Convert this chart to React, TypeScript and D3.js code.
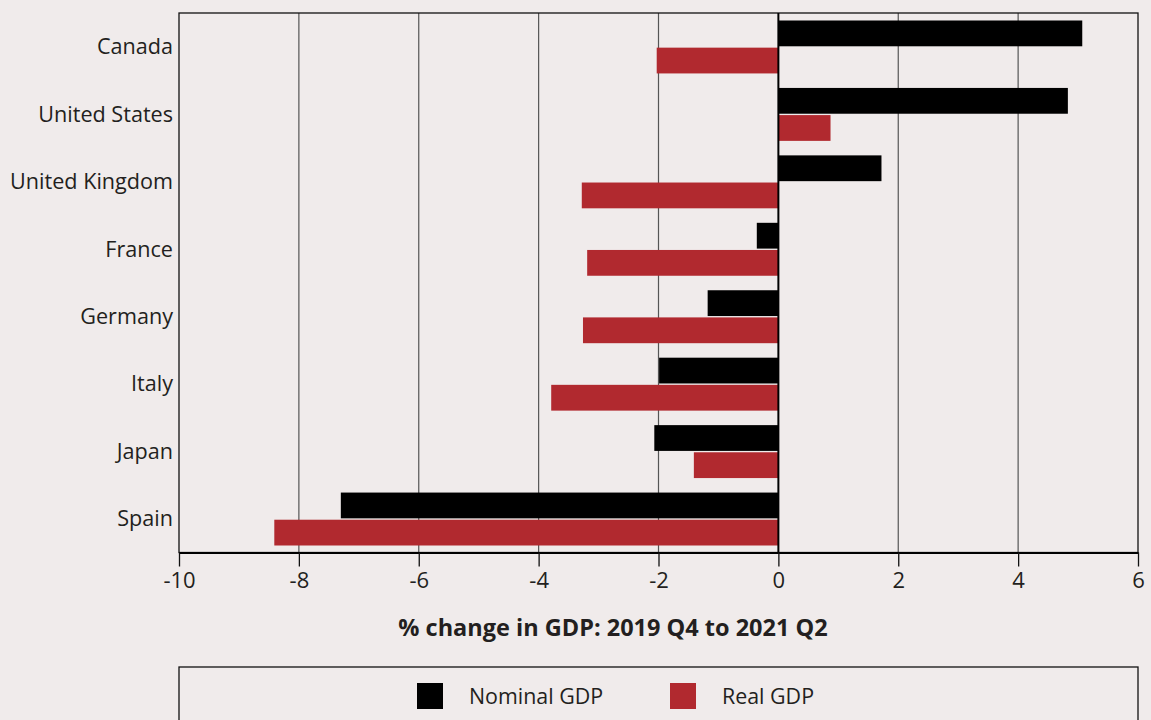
import React, { useEffect, useRef } from "react";
import * as d3 from "d3";

const countries = [
  "Canada",
  "United States",
  "United Kingdom",
  "France",
  "Germany",
  "Italy",
  "Japan",
  "Spain",
];
const nominalGDP = [5.07, 4.83, 1.72, -0.36, -1.18, -1.99, -2.07, -7.3];
const realGDP = [-2.03, 0.87, -3.28, -3.19, -3.26, -3.79, -1.41, -8.41];
const seriesKeys = ["Nominal GDP", "Real GDP"];
const xTicks = [-10, -8, -6, -4, -2, 0, 2, 4, 6];

const width = 1151,
  height = 720;
const margin = { top: 13, right: 13, bottom: 167.5, left: 179 };
const bg = "#f0ebeb";
const textColor = "#231f20";
const font = "'Open Sans', 'Noto Sans', sans-serif";
const color = d3.scaleOrdinal<string, string>(seriesKeys, ["#000000", "#b1292f"]);

export default function App(): JSX.Element {
  const ref = useRef<SVGSVGElement>(null);

  useEffect(() => {
    document.body.style.margin = "0";
    document.body.style.background = bg;
    if (!ref.current) return;
    const svg = d3.select(ref.current);
    svg.selectAll("*").remove();

    const x = d3
      .scaleLinear()
      .domain([-10, 6])
      .range([margin.left, width - margin.right]);

    const y0 = d3
      .scaleBand()
      .domain(countries)
      .range([margin.top, height - margin.bottom]);

    const y1 = d3
      .scaleBand()
      .domain(seriesKeys)
      .range([7.5, y0.bandwidth() - 7])
      .paddingInner(0.05);

    const rows = countries.map((c, i) => ({
      country: c,
      values: [
        { key: seriesKeys[0], value: nominalGDP[i] },
        { key: seriesKeys[1], value: realGDP[i] },
      ],
    }));

    svg.append("rect").attr("width", width).attr("height", height).attr("fill", bg);

    // grid lines
    svg
      .append("g")
      .selectAll("line")
      .data(xTicks.filter((t) => t !== 0 && t !== -10 && t !== 6))
      .join("line")
      .attr("x1", (d) => x(d))
      .attr("x2", (d) => x(d))
      .attr("y1", margin.top)
      .attr("y2", height - margin.bottom)
      .attr("stroke", "#555")
      .attr("stroke-width", 1.2);

    // bars
    svg
      .append("g")
      .selectAll("g")
      .data(rows)
      .join("g")
      .attr("transform", (d) => `translate(0,${y0(d.country)})`)
      .selectAll("rect")
      .data((d) => d.values)
      .join("rect")
      .attr("x", (d) => x(Math.min(0, d.value)))
      .attr("y", (d) => y1(d.key) as number)
      .attr("width", (d) => Math.abs(x(d.value) - x(0)))
      .attr("height", y1.bandwidth())
      .attr("fill", (d) => color(d.key));

    // frame
    svg
      .append("rect")
      .attr("x", margin.left)
      .attr("y", margin.top)
      .attr("width", width - margin.left - margin.right)
      .attr("height", height - margin.top - margin.bottom)
      .attr("fill", "none")
      .attr("stroke", "#111")
      .attr("stroke-width", 1.3);

    // zero line
    svg
      .append("line")
      .attr("x1", x(0))
      .attr("x2", x(0))
      .attr("y1", margin.top)
      .attr("y2", height - margin.bottom)
      .attr("stroke", "#000")
      .attr("stroke-width", 2);

    // x axis
    const xAxis = svg
      .append("g")
      .attr("transform", `translate(0,${height - margin.bottom})`)
      .call(
        d3
          .axisBottom(x)
          .tickValues(xTicks)
          .tickSize(14)
          .tickPadding(6)
          .tickSizeOuter(0)
          .tickFormat((d) => d3.format("d")(d as number).replace("−", "-"))
      );
    xAxis.select(".domain").attr("stroke", "#000").attr("stroke-width", 2);
    xAxis.selectAll(".tick line").attr("stroke", "#111").attr("stroke-width", 1.3);
    xAxis
      .selectAll(".tick text")
      .attr("font-family", font)
      .attr("font-size", 22)
      .attr("fill", textColor);

    // y labels
    svg
      .append("g")
      .selectAll("text")
      .data(countries)
      .join("text")
      .attr("x", margin.left - 6)
      .attr("y", (d) => (y0(d) as number) + y0.bandwidth() / 2)
      .attr("dy", "0.35em")
      .attr("text-anchor", "end")
      .attr("font-family", font)
      .attr("font-size", 21.6)
      .attr("fill", textColor)
      .text((d) => d);

    // axis title
    svg
      .append("text")
      .attr("x", 613)
      .attr("y", 636)
      .attr("text-anchor", "middle")
      .attr("font-family", font)
      .attr("font-weight", "bold")
      .attr("font-size", 23.5)
      .attr("fill", textColor)
      .text("% change in GDP: 2019 Q4 to 2021 Q2");

    // legend
    svg
      .append("rect")
      .attr("x", margin.left)
      .attr("y", 667)
      .attr("width", width - margin.left - margin.right)
      .attr("height", 80)
      .attr("fill", "none")
      .attr("stroke", "#111")
      .attr("stroke-width", 1.3);

    const legendX = d3.scaleOrdinal<string, number>(seriesKeys, [417, 670]);
    const lg = svg
      .append("g")
      .selectAll("g")
      .data(seriesKeys)
      .join("g")
      .attr("transform", (d) => `translate(${legendX(d)},683)`);
    lg.append("rect")
      .attr("width", 26)
      .attr("height", 26)
      .attr("fill", (d) => color(d));
    lg.append("text")
      .attr("x", 52)
      .attr("y", 13)
      .attr("dy", "0.35em")
      .attr("font-family", font)
      .attr("font-size", 21.4)
      .attr("fill", textColor)
      .text((d) => d);
  }, []);

  return <svg ref={ref} width={width} height={height} style={{ display: "block" }} />;
}
